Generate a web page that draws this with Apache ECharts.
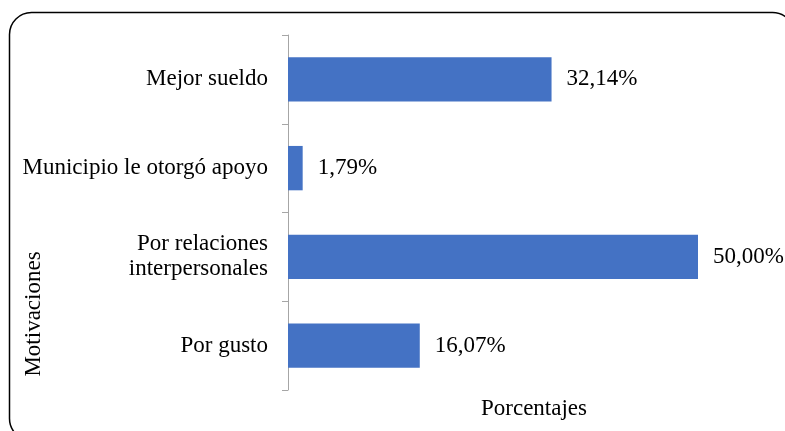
<!DOCTYPE html>
<html>
<head>
<meta charset="utf-8">
<script src="https://cdn.jsdelivr.net/npm/echarts@6/dist/echarts.min.js"></script>
<style>
  html, body { margin: 0; padding: 0; background: #fff; }
  #chart { width: 785px; height: 431px; }
</style>
</head>
<body>
<div id="chart"></div>
<script>
// Motivations, listed top to bottom
const categories = ['Mejor sueldo', 'Municipio le otorgó apoyo', 'Por relaciones\ninterpersonales', 'Por gusto'];
// Share of respondents (%)
const percentages = [32.14, 1.79, 50.00, 16.07];
const yTitle = 'Motivaciones';
const xTitle = 'Porcentajes';

const FONT = '"Liberation Serif", "Times New Roman", serif';
const chart = echarts.init(document.getElementById('chart'), null, { renderer: 'canvas' });

chart.setOption({
  animation: false,
  backgroundColor: '#ffffff',
  grid: { left: 288, right: 87, top: 35, bottom: 41, containLabel: false },
  xAxis: {
    type: 'value',
    min: 0,
    max: 50,
    show: false
  },
  yAxis: {
    type: 'category',
    data: categories,
    inverse: true,
    axisLine: { show: true, lineStyle: { color: '#a6a6a6', width: 1 } },
    axisTick: { show: true, length: 6, lineStyle: { color: '#a6a6a6' } },
    axisLabel: {
      margin: 20,
      color: '#000',
      fontFamily: FONT,
      fontSize: 23,
      lineHeight: 25,
      align: 'right'
    },
    splitLine: { show: false }
  },
  series: [{
    type: 'bar',
    data: percentages,
    barWidth: '50%',
    itemStyle: { color: '#4472C4' },
    label: {
      show: true,
      position: 'right',
      distance: 15,
      color: '#000',
      fontFamily: FONT,
      fontSize: 23,
      formatter: p => p.value.toFixed(2).replace('.', ',') + '%'
    }
  }],
  graphic: [
    {
      type: 'rect',
      shape: { x: 9.5, y: 12.5, width: 785, height: 428, r: 22 },
      style: { fill: 'none', stroke: '#000', lineWidth: 1.5 },
      silent: true
    },
    {
      type: 'text',
      x: 34,
      y: 314,
      rotation: Math.PI / 2,
      style: {
        text: yTitle,
        font: '23px ' + FONT,
        fill: '#000',
        textAlign: 'center',
        textVerticalAlign: 'middle'
      }
    },
    {
      type: 'text',
      x: 534,
      y: 409,
      style: {
        text: xTitle,
        font: '23px ' + FONT,
        fill: '#000',
        textAlign: 'center',
        textVerticalAlign: 'middle'
      }
    }
  ]
});
</script>
</body>
</html>
